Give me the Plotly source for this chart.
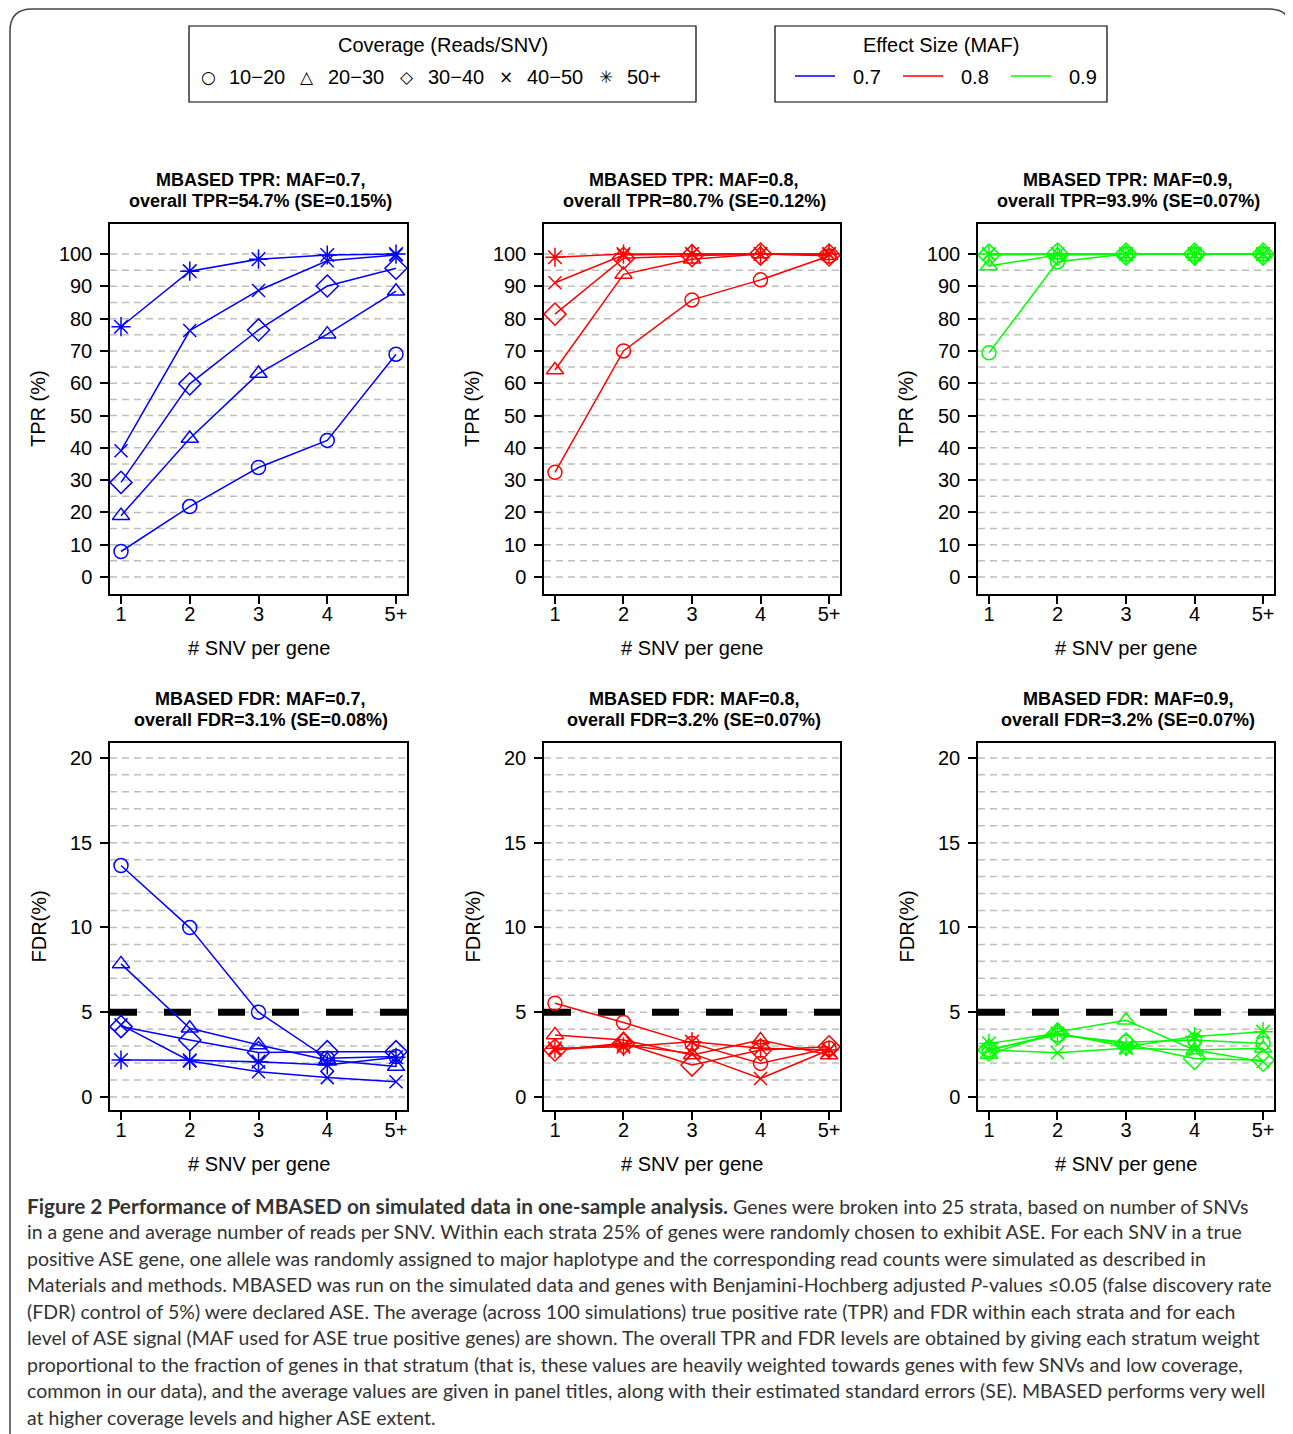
import plotly.graph_objects as go

# Browser page has an 8px body margin; reference pixel coordinates are mapped accordingly.
PAGE_W, PAGE_H = 1293, 1434
OFF = 8
W, H = PAGE_W - OFF, PAGE_H - OFF

# ---------------- data ----------------
snv_x = [1, 2, 3, 4, 5]
snv_labels = ["1", "2", "3", "4", "5+"]
coverage_levels = ["10\u221220", "20\u221230", "30\u221240", "40\u221250", "50+"]
maf_levels = ["0.7", "0.8", "0.9"]
maf_colors = ["#0000FF", "#FF0000", "#00FF00"]
tpr_overall = ["54.7", "80.7", "93.9"]
tpr_se = ["0.15", "0.12", "0.07"]
fdr_overall = ["3.1", "3.2", "3.2"]
fdr_se = ["0.08", "0.07", "0.07"]

# rows = coverage levels (10-20, 20-30, 30-40, 40-50, 50+), columns = # SNV
tpr_maf07 = [
    [7.9, 21.8, 33.9, 42.3, 69.0],
    [19.0, 42.9, 63.0, 75.2, 88.5],
    [29.3, 59.8, 76.5, 90.1, 95.6],
    [39.1, 76.3, 88.7, 97.9, 99.7],
    [77.5, 94.7, 98.4, 99.7, 100.0],
]
tpr_maf08 = [
    [32.4, 70.0, 85.8, 92.0, 99.4],
    [64.1, 93.7, 98.4, 100.0, 99.5],
    [81.4, 98.7, 99.5, 100.0, 99.7],
    [91.1, 99.7, 100.0, 100.0, 100.0],
    [99.0, 100.0, 100.0, 100.0, 100.0],
]
tpr_maf09 = [
    [69.4, 97.6, 100.0, 100.0, 100.0],
    [96.3, 99.7, 100.0, 100.0, 100.0],
    [99.7, 100.0, 100.0, 100.0, 100.0],
    [99.9, 100.0, 100.0, 100.0, 100.0],
    [100.0, 100.0, 100.0, 100.0, 100.0],
]
fdr_maf07 = [
    [13.65, 9.99, 5.0, 2.28, 2.38],
    [7.85, 4.05, 3.07, 2.18, 1.79],
    [4.15, 3.36, 2.62, 2.67, 2.67],
    [4.25, 2.12, 1.49, 1.14, 0.90],
    [2.18, 2.16, 2.08, 1.89, 2.34],
]
fdr_maf08 = [
    [5.53, 4.39, 3.16, 1.98, 2.87],
    [3.66, 3.36, 2.47, 3.36, 2.47],
    [2.77, 3.16, 1.88, 2.77, 2.96],
    [2.77, 3.06, 2.57, 1.09, 2.77],
    [2.87, 2.96, 3.26, 2.87, 2.77],
]
fdr_maf09 = [
    [2.80, 3.66, 3.22, 3.36, 3.16],
    [2.51, 3.85, 4.52, 2.77, 2.87],
    [2.77, 3.72, 3.12, 2.27, 2.17],
    [2.77, 2.61, 2.87, 2.77, 2.08],
    [3.16, 3.75, 2.96, 3.56, 3.85],
]
fdr_control = 5

caption_title = "Figure 2 Performance of MBASED on simulated data in one-sample analysis."
caption_lines = [
    "Genes were broken into 25 strata, based on number of SNVs",
    "in a gene and average number of reads per SNV. Within each strata 25% of genes were randomly chosen to exhibit ASE. For each SNV in a true",
    "positive ASE gene, one allele was randomly assigned to major haplotype and the corresponding read counts were simulated as described in",
    "Materials and methods. MBASED was run on the simulated data and genes with Benjamini-Hochberg adjusted <i>P</i>-values \u22640.05 (false discovery rate",
    "(FDR) control of 5%) were declared ASE. The average (across 100 simulations) true positive rate (TPR) and FDR within each strata and for each",
    "level of ASE signal (MAF used for ASE true positive genes) are shown. The overall TPR and FDR levels are obtained by giving each stratum weight",
    "proportional to the fraction of genes in that stratum (that is, these values are heavily weighted towards genes with few SNVs and low coverage,",
    "common in our data), and the average values are given in panel titles, along with their estimated standard errors (SE). MBASED performs very well",
    "at higher coverage levels and higher ASE extent.",
]

# ---------------- styling ----------------
FONT = "Liberation Sans, Arial, Helvetica, sans-serif"
symbols = ["circle-open", "triangle-up-open", "diamond-open", "x-thin-open", "asterisk-open"]
sizes = [14, 15, 17, 13, 16]

def px(x):
    return (x - OFF) / W

def py(y):
    return 1 - (y - OFF) / H

col_px = [(110, 407), (544, 840), (978, 1274)]
tpr_box = (224, 594)
fdr_box = (743, 1110)

fig = go.Figure()
shapes = []
annotations = []

panels = [
    ("TPR", tpr_maf07, 0), ("TPR", tpr_maf08, 1), ("TPR", tpr_maf09, 2),
    ("FDR", fdr_maf07, 0), ("FDR", fdr_maf08, 1), ("FDR", fdr_maf09, 2),
]

for i, (kind, data, c) in enumerate(panels):
    k = i + 1
    xa = "x" if k == 1 else f"x{k}"
    ya = "y" if k == 1 else f"y{k}"
    x0p, x1p = col_px[c]
    box = tpr_box if kind == "TPR" else fdr_box
    color = maf_colors[c]
    for s in range(5):
        fig.add_trace(go.Scatter(
            x=snv_x, y=data[s], mode="lines+markers", xaxis=xa, yaxis=ya,
            line=dict(color=color, width=1.5),
            marker=dict(symbol=symbols[s], size=sizes[s], color=color,
                        line=dict(color=color, width=1.5)),
            showlegend=False, hoverinfo="skip"))
    if kind == "TPR":
        yrange = [-5.26, 109.3]
        tickv = list(range(0, 101, 10))
        gridv = list(range(0, 101, 5))
        ytitle = "TPR (%)"
        t1 = f"MBASED TPR: MAF={maf_levels[c]},"
        t2 = f"overall TPR={tpr_overall[c]}% (SE={tpr_se[c]}%)"
    else:
        yrange = [-0.77, 20.88]
        tickv = list(range(0, 21, 5))
        gridv = list(range(0, 21, 1))
        ytitle = "FDR(%)"
        t1 = f"MBASED FDR: MAF={maf_levels[c]},"
        t2 = f"overall FDR={fdr_overall[c]}% (SE={fdr_se[c]}%)"
    axis_common = dict(showline=True, mirror=True, linecolor="black", linewidth=1.5,
                       ticks="outside", ticklen=8, tickwidth=1.5, tickcolor="black",
                       showgrid=False, zeroline=False,
                       tickfont=dict(family=FONT, size=20, color="black"))
    fig.layout[f"xaxis{k}"] = dict(axis_common, domain=[px(x0p), px(x1p)], anchor=ya,
                                    range=[0.84, 5.16], tickvals=snv_x, ticktext=snv_labels,
                                    ticklabelstandoff=-7)
    fig.layout[f"yaxis{k}"] = dict(axis_common, domain=[py(box[1]), py(box[0])], anchor=xa,
                                    range=yrange, tickvals=tickv, ticktext=[str(v) for v in tickv],
                                    ticklabelstandoff=4)
    xref_dom = f"{xa} domain"
    for g in gridv:
        shapes.append(dict(type="line", xref=xref_dom, yref=ya, x0=0, x1=1, y0=g, y1=g,
                           line=dict(color="#BEBEBE", width=1.5, dash="7px,5px"), layer="below"))
    if kind == "FDR":
        shapes.append(dict(type="line", xref=xref_dom, yref=ya, x0=0, x1=1,
                           y0=fdr_control, y1=fdr_control,
                           line=dict(color="black", width=7, dash="27px,27px"), layer="below"))
    cx = (x0p + x1p) / 2
    annotations.append(dict(x=px(cx + 2), y=py(box[0] - 44), xref="paper", yref="paper",
                            text=f"<b>{t1}</b>", showarrow=False,
                            font=dict(family=FONT, size=18, color="black"),
                            xanchor="center", yanchor="middle"))
    annotations.append(dict(x=px(cx + 2), y=py(box[0] - 23), xref="paper", yref="paper",
                            text=f"<b>{t2}</b>", showarrow=False,
                            font=dict(family=FONT, size=18, color="black"),
                            xanchor="center", yanchor="middle"))
    annotations.append(dict(x=px(cx), y=py(box[1] + 54), xref="paper", yref="paper",
                            text="# SNV per gene", showarrow=False,
                            font=dict(family=FONT, size=20, color="black"),
                            xanchor="center", yanchor="middle"))
    annotations.append(dict(x=px(x0p - 72), y=py((box[0] + box[1]) / 2), xref="paper", yref="paper",
                            text=ytitle, showarrow=False, textangle=-90,
                            font=dict(family=FONT, size=20, color="black"),
                            xanchor="center", yanchor="middle"))

# ---------------- legends ----------------
def rect(x0, y0, x1, y1, color="black", width=1.2):
    return dict(type="rect", xref="paper", yref="paper", x0=px(x0), x1=px(x1),
                y0=py(y1), y1=py(y0), line=dict(color=color, width=width),
                fillcolor="rgba(0,0,0,0)")

shapes.append(rect(189, 26, 696, 102))
shapes.append(rect(775, 26, 1107, 102))
annotations.append(dict(x=px(442.5), y=py(45), xref="paper", yref="paper",
                        text="Coverage (Reads/SNV)", showarrow=False,
                        font=dict(family=FONT, size=20, color="black"),
                        xanchor="center", yanchor="middle"))
annotations.append(dict(x=px(941), y=py(45), xref="paper", yref="paper",
                        text="Effect Size (MAF)", showarrow=False,
                        font=dict(family=FONT, size=20, color="black"),
                        xanchor="center", yanchor="middle"))
legend_syms = ["\u25CB", "\u25B3", "\u25C7", "\u00D7", "\u2733"]
sym_x = [208, 307, 407, 506, 606]
for j in range(5):
    annotations.append(dict(x=px(sym_x[j]), y=py(77), xref="paper", yref="paper",
                            text=legend_syms[j], showarrow=False,
                            font=dict(family="DejaVu Sans", size=17, color="black"),
                            xanchor="center", yanchor="middle"))
    annotations.append(dict(x=px(sym_x[j] + 19), y=py(77), xref="paper", yref="paper",
                            text=coverage_levels[j], showarrow=False,
                            font=dict(family=FONT, size=20, color="black"),
                            xanchor="left", yanchor="middle"))
line_x = [795, 903, 1011]
for j in range(3):
    shapes.append(dict(type="line", xref="paper", yref="paper",
                       x0=px(line_x[j]), x1=px(line_x[j] + 40), y0=py(76), y1=py(76),
                       line=dict(color=maf_colors[j], width=1.5)))
    annotations.append(dict(x=px(line_x[j] + 72), y=py(77), xref="paper", yref="paper",
                            text=maf_levels[j], showarrow=False,
                            font=dict(family=FONT, size=20, color="black"),
                            xanchor="center", yanchor="middle"))

# ---------------- outer rounded frame ----------------
r = 22
L, T, R, B = 10, 9, 1291, 1440
path = (f"M {px(L)},{py(B)} L {px(L)},{py(T + r)} Q {px(L)},{py(T)} {px(L + r)},{py(T)} "
        f"L {px(R - r)},{py(T)} Q {px(R)},{py(T)} {px(R)},{py(T + r)} L {px(R)},{py(B)}")
shapes.append(dict(type="path", xref="paper", yref="paper", path=path,
                   line=dict(color="#444444", width=1.5)))

# ---------------- caption ----------------
CAP_FONT = "Lato, Open Sans, sans-serif"
for j, line in enumerate(caption_lines):
    if j == 0:
        line = f"<span style='font-size:20.8px'><b>{caption_title}</b></span> " + line
    annotations.append(dict(x=px(25), y=py(1205 + 26.5 * j), xref="paper", yref="paper",
                            text=line, showarrow=False, align="left",
                            font=dict(family=CAP_FONT, size=19.5, color="#333333"),
                            xanchor="left", yanchor="middle"))

fig.update_layout(width=W, height=H, margin=dict(l=0, r=0, t=0, b=0),
                  paper_bgcolor="white", plot_bgcolor="white",
                  shapes=shapes, annotations=annotations, showlegend=False)

fig.write_html("out.html")
